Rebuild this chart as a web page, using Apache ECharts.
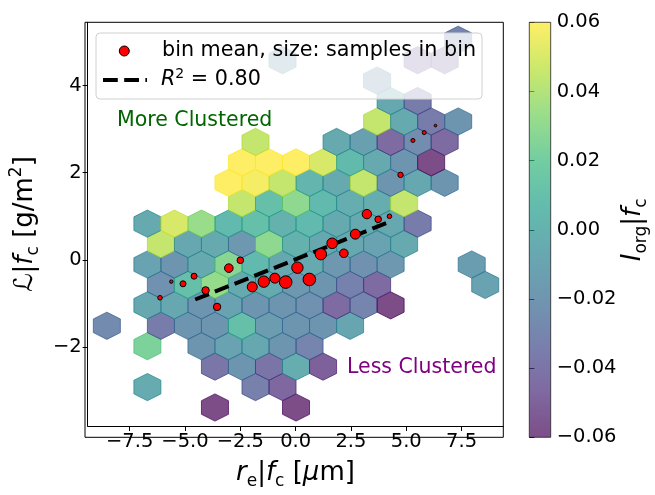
<!DOCTYPE html>
<html>
<head>
<meta charset="utf-8">
<script src="https://cdn.jsdelivr.net/npm/echarts@6/dist/echarts.min.js"></script>
<style>html,body{margin:0;padding:0;background:#fff}#c{width:655px;height:495px}</style>
</head>
<body>
<div id="c"></div>
<script>
// ---------------- data ----------------
const xRange = [-9.40, 9.385];
const yRange = [-3.8125, 5.451];
const xTicks = [-7.5, -5.0, -2.5, 0.0, 2.5, 5.0, 7.5];
const yTicks = [-2, 0, 2, 4];
const cbarRange = [-0.06, 0.06];
// hexbin grid (data units)
const hexX0 = -8.532, hexDX = 1.2214, hexY0 = -3.388, hexDY = 0.9375;
// hex bins: [column index u, half-row index r, mean I_org|f_c]
const hexBins = [
  [4,0,-0.06],[7,0,-0.06],
  [1.5,1,-0.004],[5.5,1,-0.033],[6.5,1,-0.047],
  [4,2,-0.038],[5,2,-0.02],[6,2,-0.04],[7,2,-0.003],[8,2,-0.05],
  [1.5,3,0.024],[3.5,3,-0.02],[4.5,3,-0.01],[5.5,3,-0.007],[6.5,3,-0.02],[7.5,3,-0.03],
  [0,4,-0.026],[2,4,-0.035],[3,4,-0.02],[4,4,-0.02],[5,4,0.01],[6,4,-0.015],[7,4,-0.02],[8,4,-0.02],[9,4,-0.008],
  [1.5,5,-0.007],[2.5,5,-0.007],[3.5,5,-0.02],[4.5,5,-0.01],[5.5,5,-0.02],[6.5,5,-0.02],[7.5,5,-0.022],[8.5,5,-0.045],[9.5,5,-0.03],[10.5,5,-0.06],
  [2,6,-0.022],[3,6,0.01],[4,6,0.032],[5,6,-0.005],[6,6,-0.005],[7,6,-0.018],[8,6,-0.02],[9,6,-0.032],[10,6,-0.045],[14,6,-0.01],
  [1.5,7,-0.01],[2.5,7,-0.02],[3.5,7,-0.005],[4.5,7,0.028],[5.5,7,0.005],[6.5,7,-0.007],[7.5,7,-0.005],[8.5,7,-0.018],[9.5,7,-0.022],[10.5,7,-0.018],[13.5,7,-0.014],
  [2,8,0.045],[3,8,-0.007],[4,8,-0.005],[5,8,-0.018],[6,8,0.03],[7,8,0.0],[8,8,-0.007],[9,8,-0.007],[10,8,-0.01],[11,8,-0.005],
  [1.5,9,-0.005],[2.5,9,0.05],[3.5,9,0.033],[4.5,9,0.005],[5.5,9,0.01],[6.5,9,0.0],[7.5,9,0.005],[8.5,9,-0.005],[9.5,9,-0.005],[10.5,9,-0.007],[11.5,9,-0.035],
  [5,10,0.045],[6,10,0.01],[7,10,0.03],[8,10,0.005],[9,10,-0.003],[10,10,-0.003],[11,10,0.045],
  [4.5,11,0.06],[5.5,11,0.058],[6.5,11,0.045],[7.5,11,0.003],[8.5,11,-0.005],[9.5,11,0.045],[10.5,11,-0.02],[11.5,11,-0.007],[12.5,11,-0.02],
  [5,12,0.06],[6,12,0.06],[7,12,0.06],[8,12,0.05],[9,12,0.006],[10,12,-0.005],[11,12,-0.02],[12,12,-0.06],
  [5.5,13,0.045],[8.5,13,-0.005],[9.5,13,-0.012],[10.5,13,-0.045],[11.5,13,-0.025],[12.5,13,-0.045],
  [10,14,0.045],[11,14,-0.005],[12,14,-0.035],[13,14,-0.02],
  [10.5,15,-0.007],[11.5,15,-0.035],
  [10,16,-0.02],
  [6.5,17,-0.015],[11.5,17,-0.045],[12.5,17,-0.045],
  [13,18,-0.03]
];
// bin means
const meanX = [-6.13,-5.62,-5.09,-4.59,-4.07,-3.55,-3.02,-2.50,-1.96,-1.44,-0.94,-0.45,0.08,0.62,1.14,1.65,2.18,2.70,3.22,3.73,4.24,4.74,5.30,5.81,6.32];
const meanY = [-0.87,-0.50,-0.55,-0.375,-0.70,-1.08,-0.19,-0.01,-0.62,-0.50,-0.42,-0.51,-0.18,-0.45,0.13,0.38,0.15,0.59,1.05,0.93,1.00,1.95,2.74,2.92,3.08];
const meanSamples = [106,58,180,180,274,274,370,218,500,650,500,794,650,794,650,562,370,500,442,218,106,146,80,80,34];
// regression line
const fitX = [-4.54, 4.15];
const fitY = [-0.91, 0.853];
const r2Text = '0.80';

// ---------------- chart ----------------
const FONT = 'DejaVu Sans';
const viridis = ['#440154','#482878','#3e4989','#31688e','#26828e','#1f9e89','#35b779','#6ece58','#b5de2b','#fde725'];
const minus = s => s.replace('-', '\u2212');

const hexData = hexBins.map(b => [hexX0 + b[0]*hexDX, hexY0 + b[1]*hexDY/2, b[2]]);
const meanData = meanX.map((x,i) => [x, meanY[i], meanSamples[i]]);

const chart = echarts.init(document.getElementById('c'), null, {renderer:'canvas'});
const tickLabel = {color:'#000', fontFamily:FONT, fontSize:19.5};
const axisName = {
  color:'#000', fontFamily:FONT, fontSize:26,
  rich:{
    i:{fontStyle:'italic', fontFamily:FONT, fontSize:26, color:'#000'},
    s:{fontSize:17, fontFamily:FONT, color:'#000', verticalAlign:'bottom', lineHeight:34},
    p:{fontSize:17, fontFamily:FONT, color:'#000', verticalAlign:'top', lineHeight:34}
  }
};
chart.setOption({
  animation:false,
  grid:[
    {left:85, top:22.3, width:418.3, height:415, show:false},
    {left:529.3, top:22.3, width:21.4, height:415, show:false}
  ],
  xAxis:[
    {gridIndex:0, type:'value', min:xRange[0], max:xRange[1],
     interval:2.5,
     axisLine:{show:true, onZero:false, lineStyle:{color:'#000', width:1}},
     axisTick:{show:true, length:5, lineStyle:{color:'#000'}, customValues:xTicks},
     axisLabel:Object.assign({margin:6, customValues:xTicks, formatter:v=>minus(v.toFixed(1))}, tickLabel),
     splitLine:{show:false},
     name:'{i|r}{s|e}|{i|f}{s|c} [{i|\u03bc}m]', nameLocation:'middle', nameGap:30,
     nameTextStyle:axisName},
    {gridIndex:1, type:'value', min:0, max:1, show:false}
  ],
  yAxis:[
    {gridIndex:0, type:'value', min:yRange[0], max:yRange[1],
     axisLine:{show:true, onZero:false, lineStyle:{color:'#000', width:1}},
     axisTick:{show:true, length:5, lineStyle:{color:'#000'}, customValues:yTicks},
     axisLabel:Object.assign({margin:6, customValues:yTicks, formatter:v=>minus(String(v))}, tickLabel),
     splitLine:{show:false},
     name:'{i|\u2112}|{i|f}{s|c} [g/m{p|2}]', nameLocation:'middle', nameGap:42, nameRotate:90,
     nameTextStyle:axisName},
    {gridIndex:1, type:'value', min:cbarRange[0], max:cbarRange[1], interval:0.02, position:'right',
     axisLine:{show:false},
     axisTick:{show:true, length:5, lineStyle:{color:'#000'}},
     axisLabel:Object.assign({margin:6, formatter:v=>minus(v.toFixed(2))}, tickLabel),
     splitLine:{show:false},
     name:'{i|I}{s|org}|{i|f}{s|c}', nameLocation:'middle', nameGap:64, nameRotate:90,
     nameTextStyle:axisName}
  ],
  visualMap:{type:'continuous', show:false, min:cbarRange[0], max:cbarRange[1], dimension:2, seriesIndex:0,
    inRange:{color:viridis}},
  series:[
    {type:'custom', name:'hex', xAxisIndex:0, yAxisIndex:0, clip:true, z:1,
     data:hexData,
     renderItem:(params, api)=>{
       const c = api.coord([api.value(0), api.value(1)]);
       const s = api.size([hexDX, hexDY]);
       const w = s[0]/2, h1 = s[1]/6, h2 = s[1]/3;
       const col = api.visual('color');
       return {type:'polygon',
         shape:{points:[[c[0]+w,c[1]+h1],[c[0]+w,c[1]-h1],[c[0],c[1]-h2],[c[0]-w,c[1]-h1],[c[0]-w,c[1]+h1],[c[0],c[1]+h2]]},
         style:{fill:col, stroke:col, lineWidth:1, opacity:0.7}};
     }},
    {type:'line', name:'fit', xAxisIndex:0, yAxisIndex:0, z:3,
     data:fitX.map((x,i)=>[x, fitY[i]]), showSymbol:false, symbol:'none',
     lineStyle:{color:'#000', width:4, type:[14.8,6.4]}},
    {type:'scatter', name:'means', xAxisIndex:0, yAxisIndex:0, z:4,
     data:meanData, symbol:'circle',
     symbolSize:v=>Math.sqrt(v[2]/5),
     itemStyle:{color:'#ff0000', borderColor:'#000', borderWidth:1, opacity:1}},
    {type:'custom', name:'colorbar', xAxisIndex:1, yAxisIndex:1, z:1, silent:true,
     data:[[0]],
     renderItem:(params, api)=>{
       const cs = params.coordSys;
       const stops = viridis.map((c,i)=>({offset:i/(viridis.length-1), color:c}));
       return {type:'group', children:[
         {type:'rect', shape:{x:cs.x, y:cs.y, width:cs.width, height:cs.height},
          style:{fill:new echarts.graphic.LinearGradient(0,1,0,0,stops), opacity:0.7}},
         {type:'rect', shape:{x:cs.x, y:cs.y, width:cs.width, height:cs.height},
          style:{fill:'none', stroke:'#222', lineWidth:0.8}}
       ]};
     }}
  ],
  graphic:{elements:[
    {type:'rect', z:100, silent:true, shape:{x:85, y:22.3, width:418.3, height:415},
     style:{fill:'none', stroke:'#000', lineWidth:1}},
    {type:'rect', z:90, shape:{x:96, y:33, width:386, height:66, r:4},
     style:{fill:'rgba(255,255,255,0.8)', stroke:'#d0d0d0', lineWidth:1}},
    {type:'circle', z:91, shape:{cx:124.3, cy:51, r:5}, style:{fill:'#ff0000', stroke:'#000', lineWidth:1}},
    {type:'line', z:91, shape:{x1:103, y1:80, x2:147, y2:80}, style:{stroke:'#000', lineWidth:4, lineDash:[14.8,6.4]}},
    {type:'text', z:91, x:162, y:51, style:{text:'bin mean, size: samples in bin', fontFamily:FONT, fontSize:20.7, fill:'#000', verticalAlign:'middle'}},
    {type:'text', z:91, x:161, y:80, style:{text:'{i|R}{p|2} = '+r2Text, fontFamily:FONT, fontSize:20.7, fill:'#000', verticalAlign:'middle',
      rich:{i:{fontStyle:'italic', fontFamily:FONT, fontSize:20.7, fill:'#000'}, p:{fontFamily:FONT, fontSize:14, verticalAlign:'top', lineHeight:26}}}},
    {type:'text', z:95, x:117, y:121, style:{text:'More Clustered', fontFamily:FONT, fontSize:20.5, fill:'#006400', verticalAlign:'middle'}},
    {type:'text', z:95, x:347, y:368, style:{text:'Less Clustered', fontFamily:FONT, fontSize:20.5, fill:'#800080', verticalAlign:'middle'}}
  ]}
});
</script>
</body>
</html>
